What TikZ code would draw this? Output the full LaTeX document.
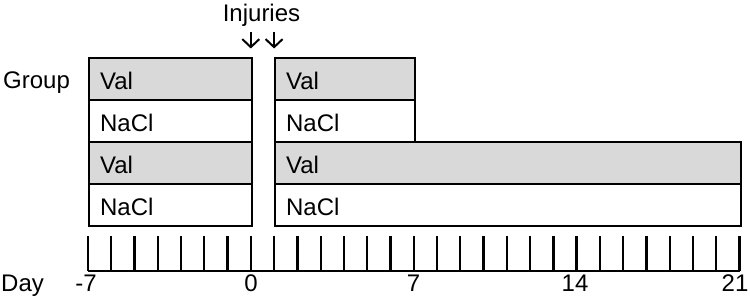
\documentclass[tikz,border=0pt]{standalone}
\usepackage{fontspec}
\setmainfont{Liberation Sans}
\usetikzlibrary{arrows.meta}
\definecolor{valgray}{RGB}{217,217,217}
\begin{document}
\begin{tikzpicture}[x=1pt,y=1pt,
  every node/.style={font=\fontsize{24}{28}\selectfont, inner sep=0pt},
  cell/.style={draw, line width=2.3pt, anchor=north west, minimum height=42pt,
    align=left, inner xsep=11pt, inner ysep=0pt, text height=20pt, text depth=0pt},
  valcell/.style={cell, fill=valgray},
  tick/.style={line width=2.3pt},
  axisline/.style={line width=2.3pt},
  arr/.style={line width=2pt, -{Straight Barb[length=8pt,width=17pt]}},
  lab/.style={anchor=base}]
\useasboundingbox (0,0) rectangle (750,-296);
% left column
\node[valcell, text width=141pt] (l1) at (88,-57) {Val};
\node[cell, text width=141pt] (l2) at (88,-99) {NaCl};
\node[valcell, text width=141pt] (l3) at (88,-141) {Val};
\node[cell, text width=141pt] (l4) at (88,-183) {NaCl};
% right column
\node[valcell, text width=118pt] (r1) at (274,-57) {Val};
\node[cell, text width=118pt] (r2) at (274,-99) {NaCl};
\node[valcell, text width=443.5pt] (r3) at (274,-141) {Val};
\node[cell, text width=443.5pt] (r4) at (274,-183) {NaCl};
% labels
\node[anchor=base west] (grp) at (3,-88.3) {Group};
\node[anchor=base west] (day) at (1,-291.7) {Day};
\node[anchor=base] (inj) at (261.5,-21.5) {Injuries};
% injury arrows
\coordinate (a0s) at (250.8,-32);
\coordinate (a0e) at (250.8,-48.5);
\coordinate (a1s) at (274.1,-32);
\coordinate (a1e) at (274.1,-48.5);
\draw[arr] (a0s) -- (a0e);
\draw[arr] (a1s) -- (a1e);
% axis
\coordinate (axL) at (88,-271);
\coordinate (axR) at (739.5,-271);
\draw[axisline] (axL) -- (axR);
\foreach \d in {0,...,28} {
  \coordinate (tk\d) at (88+\d*23.268,-236);
  \draw[tick] (tk\d) -- (tk\d |- axL);
}
\node[lab] (tm7) at (86,-291.7) {-7};
\node[lab] (t0) at (251,-291.7) {0};
\node[lab] (t7) at (413.5,-291.7) {7};
\node[lab] (t14) at (575,-291.7) {14};
\node[lab] (t21) at (735,-291.7) {21};
\end{tikzpicture}
\end{document}
